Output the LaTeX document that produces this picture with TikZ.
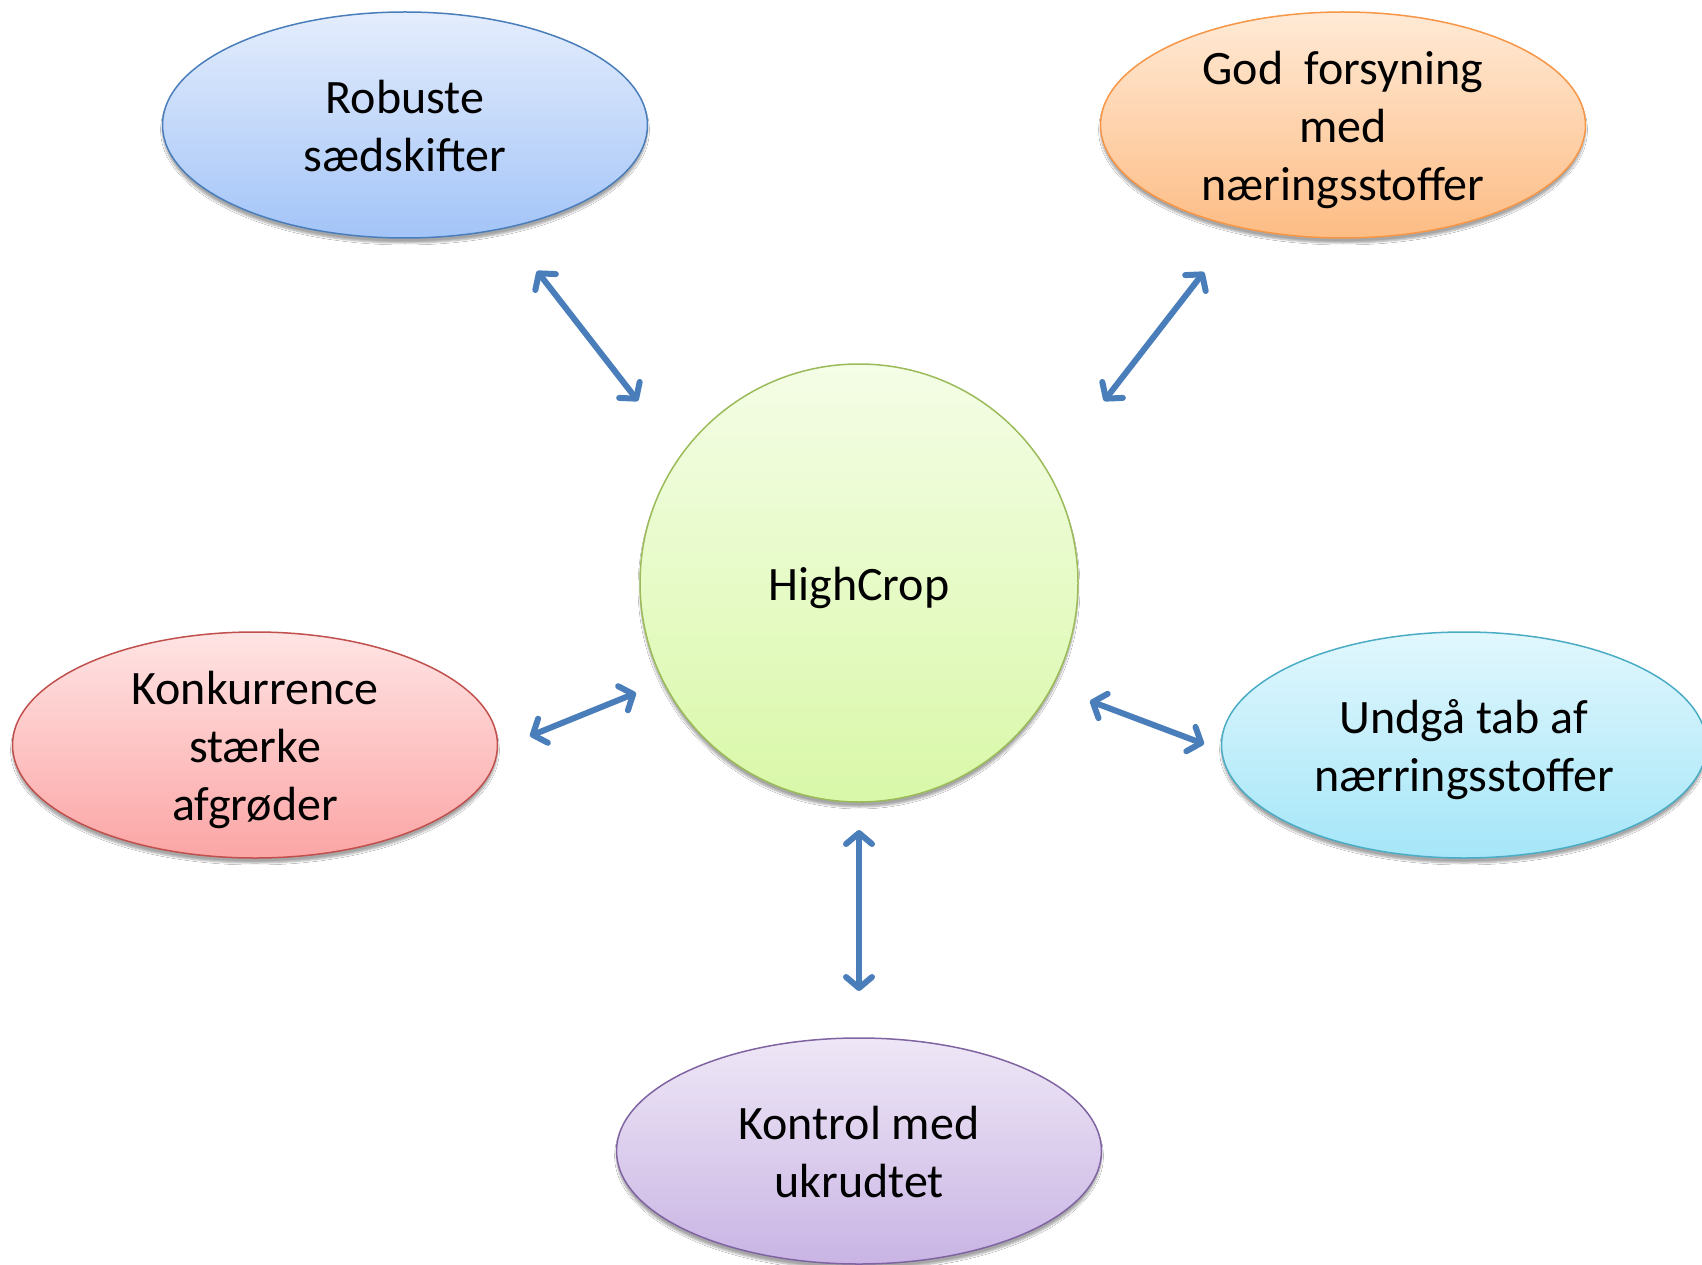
\documentclass[tikz,border=0pt]{standalone}
\usepackage{fontspec}
\setmainfont{Carlito}
\usetikzlibrary{shapes.geometric,arrows.meta,shadows.blur}
\definecolor{arrowblue}{HTML}{4A7EBB}
\newcommand\pptop{\rule{0pt}{46.5pt}}
\tikzset{
  pptext/.style={align=center, font=\fontsize{48}{58}\selectfont,
    execute at end node={\rule[-12pt]{0pt}{0pt}}},
  bubble/.style={ellipse, minimum width=485pt, minimum height=226pt, inner xsep=0pt, inner ysep=-25pt,
    line width=1.5pt, pptext,
    blur shadow={shadow xshift=0pt, shadow yshift=-5pt, shadow blur steps=6, shadow opacity=35}},
  hub/.style={circle, minimum size=438pt, inner sep=0pt, line width=1.5pt, pptext,
    blur shadow={shadow xshift=0pt, shadow yshift=-5pt, shadow blur steps=6, shadow opacity=35}},
  link/.style={arrowblue, line width=6pt, line cap=round,
    {Straight Barb[length=11pt,width=26pt,line cap=round,line join=round]}-{Straight Barb[length=11pt,width=26pt,line cap=round,line join=round]}}
}
\begin{document}
\begin{tikzpicture}[x=1pt,y=-1pt]
\useasboundingbox (0,0) rectangle (1702,1265);
\fill[white] (0,0) rectangle (1702,1265);

\node[hub, top color={rgb,255:red,244;green,253;blue,230}, bottom color={rgb,255:red,217;green,248;blue,168}, draw={rgb,255:red,155;green,187;blue,89}] (hc) at (859,583) {\pptop HighCrop};

\node[bubble, top color={rgb,255:red,228;green,237;blue,252}, bottom color={rgb,255:red,163;green,196;blue,248}, draw={rgb,255:red,74;green,126;blue,187}] (rob) at (405,125) {\pptop Robuste\\sædskifter};

\node[bubble, top color={rgb,255:red,255;green,234;blue,214}, bottom color={rgb,255:red,253;green,188;blue,132}, draw={rgb,255:red,247;green,150;blue,70}] (god) at (1343,125) {\pptop God\ \ forsyning\\med\\næringsstoffer};

\node[bubble, top color={rgb,255:red,255;green,228;blue,228}, bottom color={rgb,255:red,252;green,165;blue,165}, draw={rgb,255:red,192;green,80;blue,77}] (kon) at (255,745) {\pptop Konkurrence\\stærke\\afgrøder};

\node[bubble, top color={rgb,255:red,225;green,247;blue,253}, bottom color={rgb,255:red,165;green,230;blue,248}, draw={rgb,255:red,75;green,172;blue,198}] (und) at (1464,745) {\pptop Undgå tab af\\nærringsstoffer};

\node[bubble, top color={rgb,255:red,238;green,231;blue,246}, bottom color={rgb,255:red,201;green,180;blue,228}, draw={rgb,255:red,128;green,100;blue,162}] (ktr) at (859,1151) {\pptop Kontrol med\\ukrudtet};

\coordinate (a1s) at (537,271);
\coordinate (a1e) at (638,401);
\coordinate (a2s) at (1204,272);
\coordinate (a2e) at (1104,401);
\coordinate (a3s) at (530,736);
\coordinate (a3e) at (636,693);
\coordinate (a4s) at (1090,701);
\coordinate (a4e) at (1204,744);
\coordinate (a5s) at (859,830);
\coordinate (a5e) at (859,991);

\draw[link] (a1s) -- (a1e);
\draw[link] (a2s) -- (a2e);
\draw[link] (a3s) -- (a3e);
\draw[link] (a4s) -- (a4e);
\draw[link] (a5s) -- (a5e);
\end{tikzpicture}
\end{document}
